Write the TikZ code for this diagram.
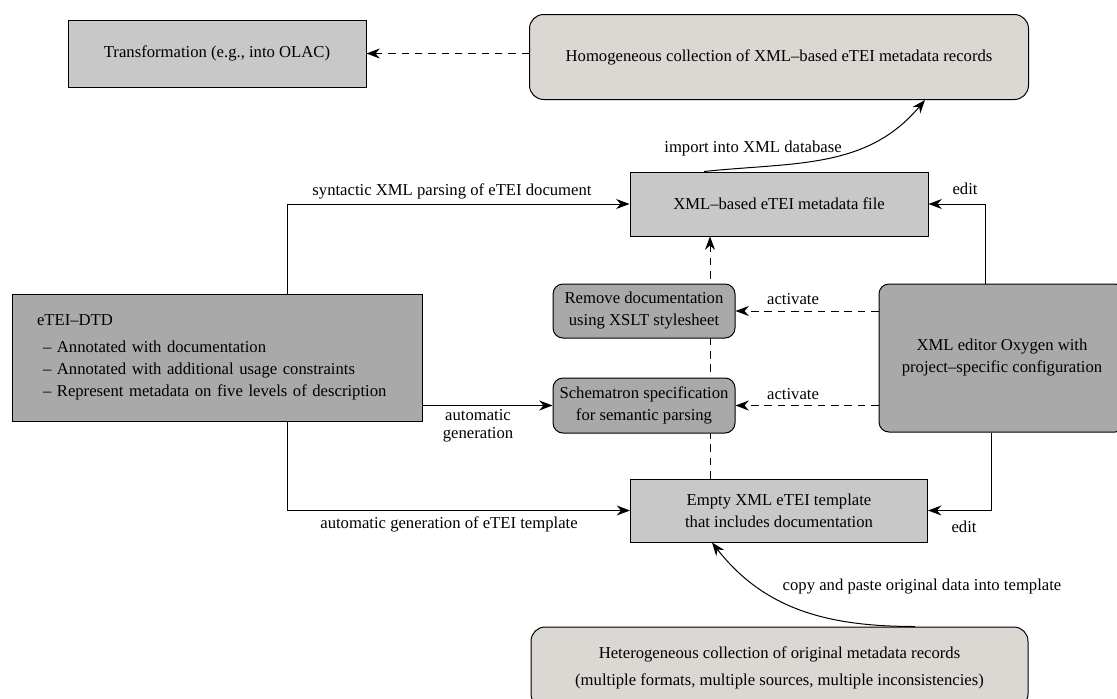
\documentclass[tikz,border=0pt]{standalone}
\usepackage{fontspec}
\setmainfont{Liberation Serif}
\usetikzlibrary{arrows.meta}
\definecolor{lightbox}{HTML}{C8C8C8}
\definecolor{darkbox}{HTML}{A9A9A9}
\definecolor{beigebox}{HTML}{DBD8D3}
\tikzset{
  base/.style={draw=black, line width=0.6pt, align=center, inner sep=0pt,
    font=\fontsize{10}{13.2}\selectfont},
  sqbox/.style={base, fill=lightbox},
  darksq/.style={base, fill=darkbox},
  roundbox/.style={base, fill=darkbox, rounded corners=6pt},
  collbox/.style={base, fill=beigebox, rounded corners=8.5pt},
  conn/.style={line width=0.6pt, -{Stealth[length=8pt,width=6pt,inset=2.6pt]}},
  dconn/.style={conn, dash pattern=on 4.5pt off 3.5pt},
  lbl/.style={inner sep=0pt, align=center, font=\fontsize{10}{10.8}\selectfont}
}
\begin{document}
\begin{tikzpicture}[x=0.6pt, y=-0.6pt]
\useasboundingbox (0,0) rectangle (1117,698);
\clip (0,0) rectangle (1117,698);
% nodes
\node[sqbox, minimum width=178.8pt, minimum height=40.2pt] (trans) at (217,53.5) {Transformation (e.g., into OLAC)};
\node[collbox, minimum width=299.4pt, minimum height=51pt] (homog) at (779,57) {Homogeneous collection of XML--based eTEI metadata records};
\node[sqbox, minimum width=178.8pt, minimum height=38.4pt] (xmlf) at (779,204) {XML--based eTEI metadata file};
\node[sqbox, minimum width=178.2pt, minimum height=37.8pt] (templ) at (779,510.5) {Empty XML eTEI template\\that includes documentation};
% dashed vertical connector (behind the middle boxes)
\draw[dconn] ([xshift=-41.4pt]templ.north) -- ([xshift=-41.4pt]xmlf.south);
\node[roundbox, minimum width=109.2pt, minimum height=32.4pt] (remove) at (644,311) {Remove documentation\\using XSLT stylesheet};
\node[roundbox, minimum width=109.2pt, minimum height=33pt] (schem) at (644,405.5) {Schematron specification\\for semantic parsing};
\node[darksq, minimum width=246pt, minimum height=76.2pt, text width=216pt, inner xsep=15pt, align=left] (dtd) at (217,357.5)
  {eTEI--DTD\\[3pt]
   \hspace*{3.6pt}-- Annotated with documentation\\
   \hspace*{3.6pt}-- Annotated with additional usage constraints\\
   \hspace*{3.6pt}-- Represent metadata on five levels of description};
\node[roundbox, minimum width=147.6pt, minimum height=88.8pt] (oxy) at (1002,358) {XML editor Oxygen with\\project--specific configuration};
\node[collbox, minimum width=298.2pt, minimum height=48.6pt, font=\fontsize{10}{16.2}\selectfont] (hetero) at (779.5,667.5)
  {Heterogeneous collection of original metadata records\\(multiple formats, multiple sources, multiple inconsistencies)};
% connectors
\draw[dconn] (homog.west |- trans.east) -- (trans.east);
\draw[conn] ([xshift=-45pt]xmlf.north) to[out=6, in=-130] ([xshift=87.6pt]homog.south);
\node[lbl] (limport) at (753,148) {import into XML database};
\draw[conn] ([xshift=42pt]dtd.north) |- (xmlf.west);
\node[lbl] (lsyn) at (452,191) {syntactic XML parsing of eTEI document};
\draw[conn] (dtd.east |- schem.west) -- (schem.west);
\node[lbl] (lauto) at (478,426) {automatic\\generation};
\draw[conn] ([xshift=42pt]dtd.south) |- (templ.west);
\node[lbl] (ltempl) at (449,524) {automatic generation of eTEI template};
\draw[dconn] (oxy.west |- remove.east) -- (remove.east);
\node[lbl] (lact1) at (793,299) {activate};
\draw[dconn] (oxy.west |- schem.east) -- (schem.east);
\node[lbl] (lact2) at (793,394) {activate};
\draw[conn] ([xshift=-10.2pt]oxy.north) |- (xmlf.east);
\node[lbl] (ledit1) at (965,189) {edit};
\draw[conn] ([xshift=-6.6pt]oxy.south) |- (templ.east);
\node[lbl] (ledit2) at (964,527) {edit};
\draw[conn] ([xshift=81.3pt]hetero.north) to[out=180, in=-52] ([xshift=-40.2pt]templ.south);
\node[lbl] (lcopy) at (922,587) {copy and paste original data into template};
\end{tikzpicture}
\end{document}
